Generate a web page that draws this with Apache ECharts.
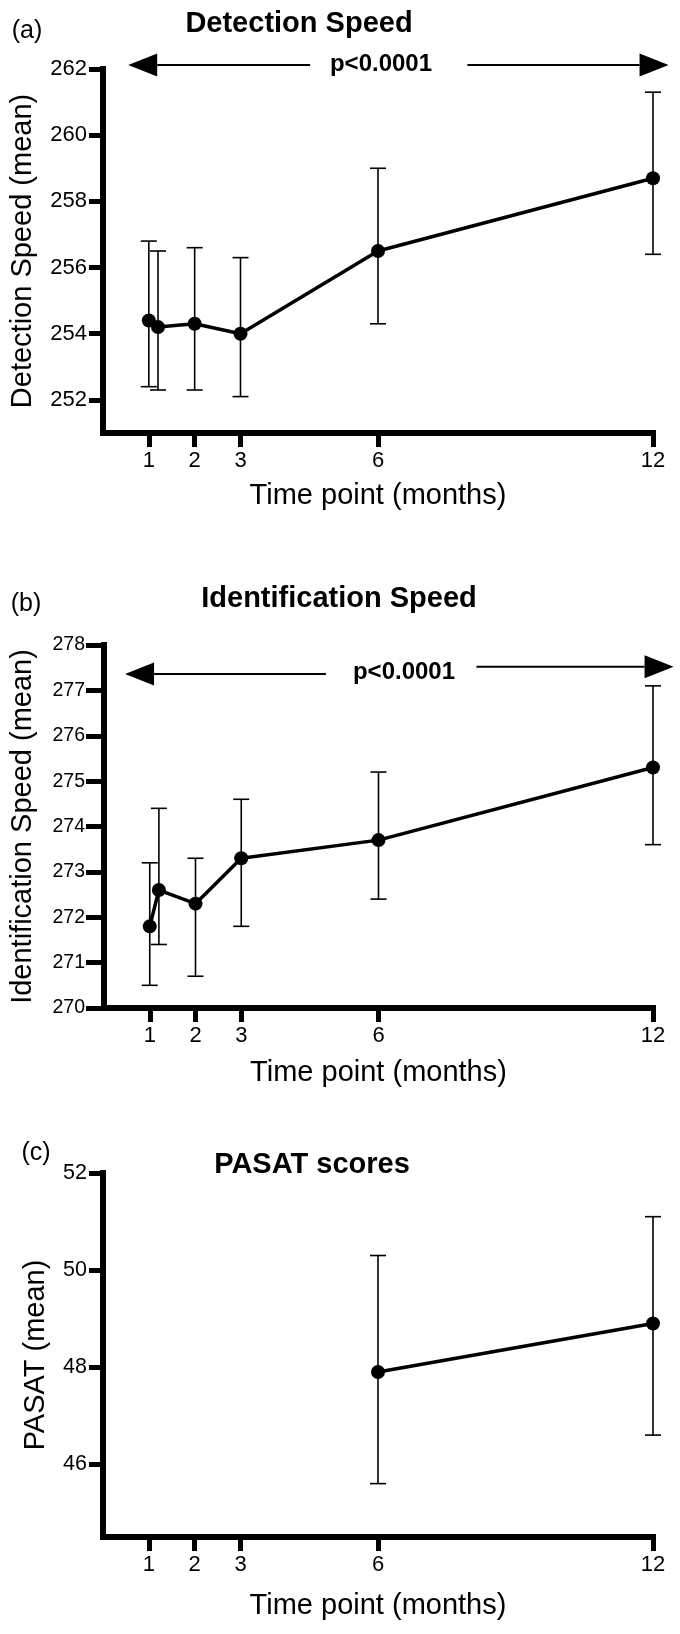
<!DOCTYPE html>
<html>
<head>
<meta charset="utf-8">
<script src="https://cdn.jsdelivr.net/npm/echarts@6/dist/echarts.min.js"></script>
<style>
  html, body { margin: 0; padding: 0; background: #fff; }
  #chart { width: 680px; height: 1634px; }
</style>
</head>
<body>
<div id="chart"></div>
<script>
// ---- Data ----
const months = [1, 1.2, 2, 3, 6, 12];
const xTicks = [1, 2, 3, 6, 12];

const detMean = [254.4, 254.2, 254.3, 254.0, 256.5, 258.7];
const detLow  = [252.4, 252.3, 252.3, 252.1, 254.3, 256.4];
const detHigh = [256.8, 256.5, 256.6, 256.3, 259.0, 261.3];
const detTicks = [252, 254, 256, 258, 260, 262];

const idMean = [271.8, 272.6, 272.3, 273.3, 273.7, 275.3];
const idLow  = [270.5, 271.4, 270.7, 271.8, 272.4, 273.6];
const idHigh = [273.2, 274.4, 273.3, 274.6, 275.2, 277.1];
const idTicks = [270, 271, 272, 273, 274, 275, 276, 277, 278];

const pasatMonths = [6, 12];
const pasatMean = [47.9, 48.9];
const pasatLow  = [45.6, 46.6];
const pasatHigh = [50.3, 51.1];
const pasatTicks = [46, 48, 50, 52];

// p-value arrow annotations in data coordinates: [xInnerEnd, xTip, y]
const detArrows = [[4.52, 0.55, 262.12], [7.95, 12.34, 262.12]];
const idArrows  = [[4.85, 0.46, 277.36], [8.14, 12.45, 277.52]];

// ---- Chart ----
const FONT = '"Liberation Sans", Arial, Helvetica, sans-serif';
const AXIS_W = 6, TICK_W = 5;
const chart = echarts.init(document.getElementById('chart'), null, { renderer: 'canvas' });

function xAxisDef(gi, nameGap) {
  return {
    type: 'value', gridIndex: gi, min: 0, max: 12, interval: 1,
    name: 'Time point (months)', nameLocation: 'middle', nameGap: nameGap,
    nameTextStyle: { fontFamily: FONT, fontSize: 29, color: '#000' },
    axisLine: { show: true, onZero: false, lineStyle: { color: '#000', width: AXIS_W, cap: 'square' } },
    axisTick: { show: true, length: 14, customValues: xTicks, lineStyle: { color: '#000', width: TICK_W } },
    axisLabel: { show: true, customValues: xTicks, margin: 17, fontFamily: FONT, fontSize: 22, color: '#000' },
    splitLine: { show: false }
  };
}
function yAxisDef(gi, name, min, max, interval, ticks, nameGap, fontSize, tickLen, margin) {
  return {
    type: 'value', gridIndex: gi, min: min, max: max, interval: interval,
    name: name, nameLocation: 'middle', nameGap: nameGap,
    nameTextStyle: { fontFamily: FONT, fontSize: 29, color: '#000' },
    axisLine: { show: true, onZero: false, lineStyle: { color: '#000', width: AXIS_W, cap: 'square' } },
    axisTick: { show: true, length: tickLen, customValues: ticks, lineStyle: { color: '#000', width: TICK_W } },
    axisLabel: { show: true, customValues: ticks, margin: margin, fontFamily: FONT, fontSize: fontSize, color: '#000' },
    splitLine: { show: false }
  };
}
function errSeries(gi, xs, lo, hi) {
  return {
    type: 'custom', xAxisIndex: gi, yAxisIndex: gi, z: 2, silent: true,
    data: xs.map((m, i) => [m, lo[i], hi[i]]),
    encode: { x: 0, y: [1, 2] },
    renderItem: function (params, api) {
      const x = api.value(0);
      const pLo = api.coord([x, api.value(1)]);
      const pHi = api.coord([x, api.value(2)]);
      const hw = 8;
      const st = { stroke: '#000', lineWidth: 1.6 };
      return {
        type: 'group',
        children: [
          { type: 'line', shape: { x1: pLo[0], y1: pLo[1], x2: pHi[0], y2: pHi[1] }, style: st },
          { type: 'line', shape: { x1: pLo[0] - hw, y1: pLo[1], x2: pLo[0] + hw, y2: pLo[1] }, style: st },
          { type: 'line', shape: { x1: pHi[0] - hw, y1: pHi[1], x2: pHi[0] + hw, y2: pHi[1] }, style: st }
        ]
      };
    }
  };
}
function lineSeries(gi, xs, mean) {
  return {
    type: 'line', xAxisIndex: gi, yAxisIndex: gi, z: 3, silent: true,
    data: xs.map((m, i) => [m, mean[i]]),
    symbol: 'circle', symbolSize: 14,
    lineStyle: { color: '#000', width: 3.5 },
    itemStyle: { color: '#000' }
  };
}
function txt(text, x, y, size, bold) {
  return {
    type: 'text', x: x, y: y, silent: true,
    style: {
      text: text, fill: '#000',
      font: (bold ? 'bold ' : '') + size + 'px ' + FONT,
      textAlign: 'center', textVerticalAlign: 'middle',
      align: 'center', verticalAlign: 'middle'
    }
  };
}

const texts = [
  txt('(a)', 27, 31, 25, false),
  txt('Detection Speed', 299, 24, 29, true),
  txt('p<0.0001', 381, 64, 24, true),
  txt('(b)', 26, 604, 25, false),
  txt('Identification Speed', 339, 599, 29, true),
  txt('p<0.0001', 404, 672, 24, true),
  txt('(c)', 36, 1153, 25, false),
  txt('PASAT scores', 312, 1165, 29, true)
];

const option = {
  animation: false,
  backgroundColor: '#fff',
  grid: [
    { left: 103, right: 27, top: 69, height: 364 },
    { left: 103, right: 27, top: 645, height: 363 },
    { left: 103, right: 27, top: 1173, height: 364 }
  ],
  xAxis: [xAxisDef(0, 48), xAxisDef(1, 50), xAxisDef(2, 54)],
  yAxis: [
    yAxisDef(0, 'Detection Speed (mean)', 251, 262, 1, detTicks, 66, 22, 14, 16),
    yAxisDef(1, 'Identification Speed (mean)', 270, 278, 1, idTicks, 67, 19.5, 18, 19),
    yAxisDef(2, 'PASAT (mean)', 44.5, 52, 0.5, pasatTicks, 53, 21.5, 14, 16)
  ],
  series: [
    errSeries(0, months, detLow, detHigh),
    lineSeries(0, months, detMean),
    errSeries(1, months, idLow, idHigh),
    lineSeries(1, months, idMean),
    errSeries(2, pasatMonths, pasatLow, pasatHigh),
    lineSeries(2, pasatMonths, pasatMean)
  ],
  graphic: texts
};
chart.setOption(option);

// Arrow annotations positioned through the chart's own scales
function arrowGraphics(gi, arrows) {
  const out = [];
  arrows.forEach(a => {
    const pIn = chart.convertToPixel({ gridIndex: gi }, [a[0], a[2]]);
    const pTip = chart.convertToPixel({ gridIndex: gi }, [a[1], a[2]]);
    const dir = pTip[0] > pIn[0] ? 1 : -1;
    const len = 29, hw = 11.5;
    const baseX = pTip[0] - dir * len;
    out.push({
      type: 'line', silent: true,
      shape: { x1: pIn[0], y1: pIn[1], x2: baseX, y2: pIn[1] },
      style: { stroke: '#000', lineWidth: 2 }
    });
    out.push({
      type: 'polygon', silent: true,
      shape: { points: [[pTip[0], pTip[1]], [baseX, pTip[1] - hw], [baseX, pTip[1] + hw]] },
      style: { fill: '#000' }
    });
  });
  return out;
}
chart.setOption({
  graphic: texts.concat(arrowGraphics(0, detArrows), arrowGraphics(1, idArrows))
});
</script>
</body>
</html>
